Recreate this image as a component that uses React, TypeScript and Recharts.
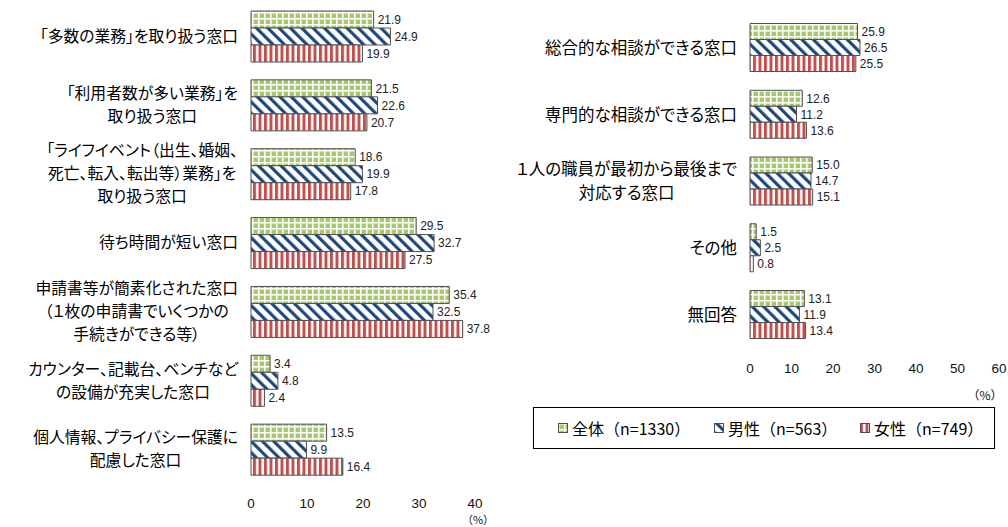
import React from 'react';
import { BarChart, Bar, XAxis, YAxis, LabelList } from 'recharts';

const FONT = '"Noto Sans CJK JP", "Noto Sans", sans-serif';
const NUMFONT = '"Liberation Sans", Arial, sans-serif';

// ---- data ----
const leftCategories = [
  '「多数の業務」を取り扱う窓口',
  '「利用者数が多い業務」を\n取り扱う窓口',
  '「ライフイベント（出生、婚姻、\n死亡、転入、転出等）業務」を\n取り扱う窓口',
  '待ち時間が短い窓口',
  '申請書等が簡素化された窓口\n（１枚の申請書でいくつかの\n手続きができる等）',
  'カウンター、記載台、ベンチなど\nの設備が充実した窓口',
  '個人情報、プライバシー保護に\n配慮した窓口',
];
const leftAll = [21.9, 21.5, 18.6, 29.5, 35.4, 3.4, 13.5];
const leftMale = [24.9, 22.6, 19.9, 32.7, 32.5, 4.8, 9.9];
const leftFemale = [19.9, 20.7, 17.8, 27.5, 37.8, 2.4, 16.4];

const rightCategories = [
  '総合的な相談ができる窓口',
  '専門的な相談ができる窓口',
  '１人の職員が最初から最後まで\n対応する窓口',
  'その他',
  '無回答',
];
const rightAll = [25.9, 12.6, 15.0, 1.5, 13.1];
const rightMale = [26.5, 11.2, 14.7, 2.5, 11.9];
const rightFemale = [25.5, 13.6, 15.1, 0.8, 13.4];

const leftTicks = [0, 10, 20, 30, 40];
const rightTicks = [0, 10, 20, 30, 40, 50, 60];

const seriesNames = ['全体（n=1330）', '男性（n=563）', '女性（n=749）'];

const leftData = leftCategories.map((name, i) => ({
  name,
  all: leftAll[i],
  male: leftMale[i],
  female: leftFemale[i],
}));
const rightData = rightCategories.map((name, i) => ({
  name,
  all: rightAll[i],
  male: rightMale[i],
  female: rightFemale[i],
}));

// ---- helpers ----
const measureCache = new Map<string, number>();
function measure(s: string, fontSize: number): number {
  const key = s + '|' + fontSize;
  if (measureCache.has(key)) return measureCache.get(key)!;
  let w = s.length * fontSize;
  if (typeof document !== 'undefined') {
    const span = document.createElement('span');
    span.style.cssText = `position:absolute;visibility:hidden;white-space:pre;font-family:${FONT};font-size:${fontSize}px;font-feature-settings:"palt";`;
    span.textContent = s;
    document.body.appendChild(span);
    w = span.getBoundingClientRect().width;
    document.body.removeChild(span);
  }
  measureCache.set(key, w);
  return w;
}

function makeCatTick(fontSize: number, lineHeight: number, gap: number) {
  return (props: any) => {
    const { x, y, payload } = props;
    const lines = String(payload.value).split('\n');
    const maxW = Math.max(...lines.map((l) => measure(l, fontSize)));
    const cx = x - gap - maxW / 2;
    const n = lines.length;
    return (
      <text
        textAnchor="middle"
        fontSize={fontSize}
        fontFamily={FONT}
        fill="#000"
        style={{ fontFeatureSettings: '"palt"' }}
      >
        {lines.map((l, i) => (
          <tspan key={i} x={cx} y={y + (i - (n - 1) / 2) * lineHeight} dy="0.36em">
            {l}
          </tspan>
        ))}
      </text>
    );
  };
}

const XTick = (props: any) => (
  <text
    x={props.x}
    y={props.y + 20}
    dy="0.36em"
    textAnchor="middle"
    fontSize={13.5}
    fontFamily={NUMFONT}
    fill="#111"
  >
    {props.payload.value}
  </text>
);

const fmt = (v: any) => Number(v).toFixed(1);

const labelProps = {
  position: 'right' as const,
  offset: 4,
  formatter: fmt,
  fontSize: 12,
  fontFamily: NUMFONT,
  fill: '#222',
};

const Patterns = () => (
  <svg width={0} height={0} style={{ position: 'absolute' }}>
    <defs>
      <pattern id="pGreen" width="6" height="6" patternUnits="userSpaceOnUse">
        <rect width="6" height="6" fill="#A8C96A" />
        <rect x="0" y="0" width="6" height="1.5" fill="#fff" />
        <rect x="0" y="0" width="1.5" height="6" fill="#fff" />
      </pattern>
      <pattern
        id="pBlue"
        width="8"
        height="8"
        patternUnits="userSpaceOnUse"
        patternTransform="rotate(-45)"
      >
        <rect width="8" height="8" fill="#fff" />
        <rect x="0" y="0" width="3.2" height="8" fill="#1F497D" />
      </pattern>
      <pattern id="pRed" width="5.5" height="6" patternUnits="userSpaceOnUse">
        <rect width="5.5" height="6" fill="#fff" />
        <rect x="0" y="0" width="3" height="6" fill="#C0504D" />
      </pattern>
    </defs>
  </svg>
);

const fills = ['url(#pGreen)', 'url(#pBlue)', 'url(#pRed)'];
const keys = ['all', 'male', 'female'];

function renderBars() {
  return keys.map((k, i) => (
    <Bar
      key={k}
      dataKey={k}
      name={seriesNames[i]}
      fill={fills[i]}
      stroke="#505050"
      strokeWidth={1}
      isAnimationActive={false}
    >
      <LabelList dataKey={k} {...labelProps} />
    </Bar>
  ));
}

const PctLabel = (dx: number, dy: number, fs: number) => (props: any) => {
  const vb = props.viewBox || {};
  return (
    <text
      x={vb.x + vb.width + dx}
      y={vb.y + dy}
      dy="0.36em"
      textAnchor="middle"
      fontSize={fs}
      fontFamily={FONT}
      fill="#111"
    >
      （%）
    </text>
  );
};

const Legend = () => (
  <div
    style={{
      position: 'absolute',
      left: 533,
      top: 407,
      width: 462,
      height: 42,
      boxSizing: 'border-box',
      border: '1.5px solid #000',
      fontFamily: FONT,
      fontSize: 16,
      color: '#000',
    }}
  >
    {seriesNames.map((n, i) => {
      const lefts = [24, 180, 326];
      return (
        <div
          key={n}
          style={{
            position: 'absolute',
            left: lefts[i],
            top: 0,
            height: 39,
            display: 'flex',
            alignItems: 'center',
            whiteSpace: 'nowrap',
          }}
        >
          <svg width={10} height={10} style={{ marginRight: 4 }}>
            <rect x={0.5} y={0.5} width={9} height={9} fill={fills[i]} stroke="#505050" strokeWidth={1} />
          </svg>
          <span>{n}</span>
        </div>
      );
    })}
  </div>
);

export default function App() {
  return (
    <div style={{ position: 'absolute', left: 0, top: 0, width: 1008, height: 527, background: '#fff' }}>
      <Patterns />
      <div style={{ position: 'absolute', left: 0, top: 0 }}>
        <BarChart
          width={510}
          height={527}
          data={leftData}
          layout="vertical"
          margin={{ top: 1.6, right: 35, bottom: 0, left: 0 }}
          barCategoryGap={9.4}
          barGap={0}
        >
          <XAxis
            type="number"
            domain={[0, 40]}
            ticks={leftTicks}
            axisLine={false}
            tickLine={false}
            tickSize={0}
            tickMargin={0}
            height={43.4}
            tick={<XTick />}
            interval={0}
            label={{ content: PctLabel(3, 36.5, 11) }}
          />
          <YAxis
            type="category"
            dataKey="name"
            width={251}
            axisLine={false}
            tickLine={false}
            tickSize={0}
            tickMargin={0}
            interval={0}
            tick={makeCatTick(15.8, 23, 13)}
          />
          {renderBars()}
        </BarChart>
      </div>
      <div style={{ position: 'absolute', left: 500, top: 0 }}>
        <BarChart
          width={508}
          height={405}
          data={rightData}
          layout="vertical"
          margin={{ top: 14.6, right: 9, bottom: 0, left: 0 }}
          barCategoryGap={8.9}
          barGap={0}
        >
          <XAxis
            type="number"
            domain={[0, 60]}
            ticks={rightTicks}
            axisLine={false}
            tickLine={false}
            tickSize={0}
            tickMargin={0}
            height={56.6}
            tick={<XTick />}
            interval={0}
            label={{ content: PctLabel(-14, 47, 12) }}
          />
          <YAxis
            type="category"
            dataKey="name"
            width={250}
            axisLine={false}
            tickLine={false}
            tickSize={0}
            tickMargin={0}
            interval={0}
            tick={makeCatTick(16.5, 24, 13)}
          />
          {renderBars()}
        </BarChart>
      </div>
      <Legend />
    </div>
  );
}
